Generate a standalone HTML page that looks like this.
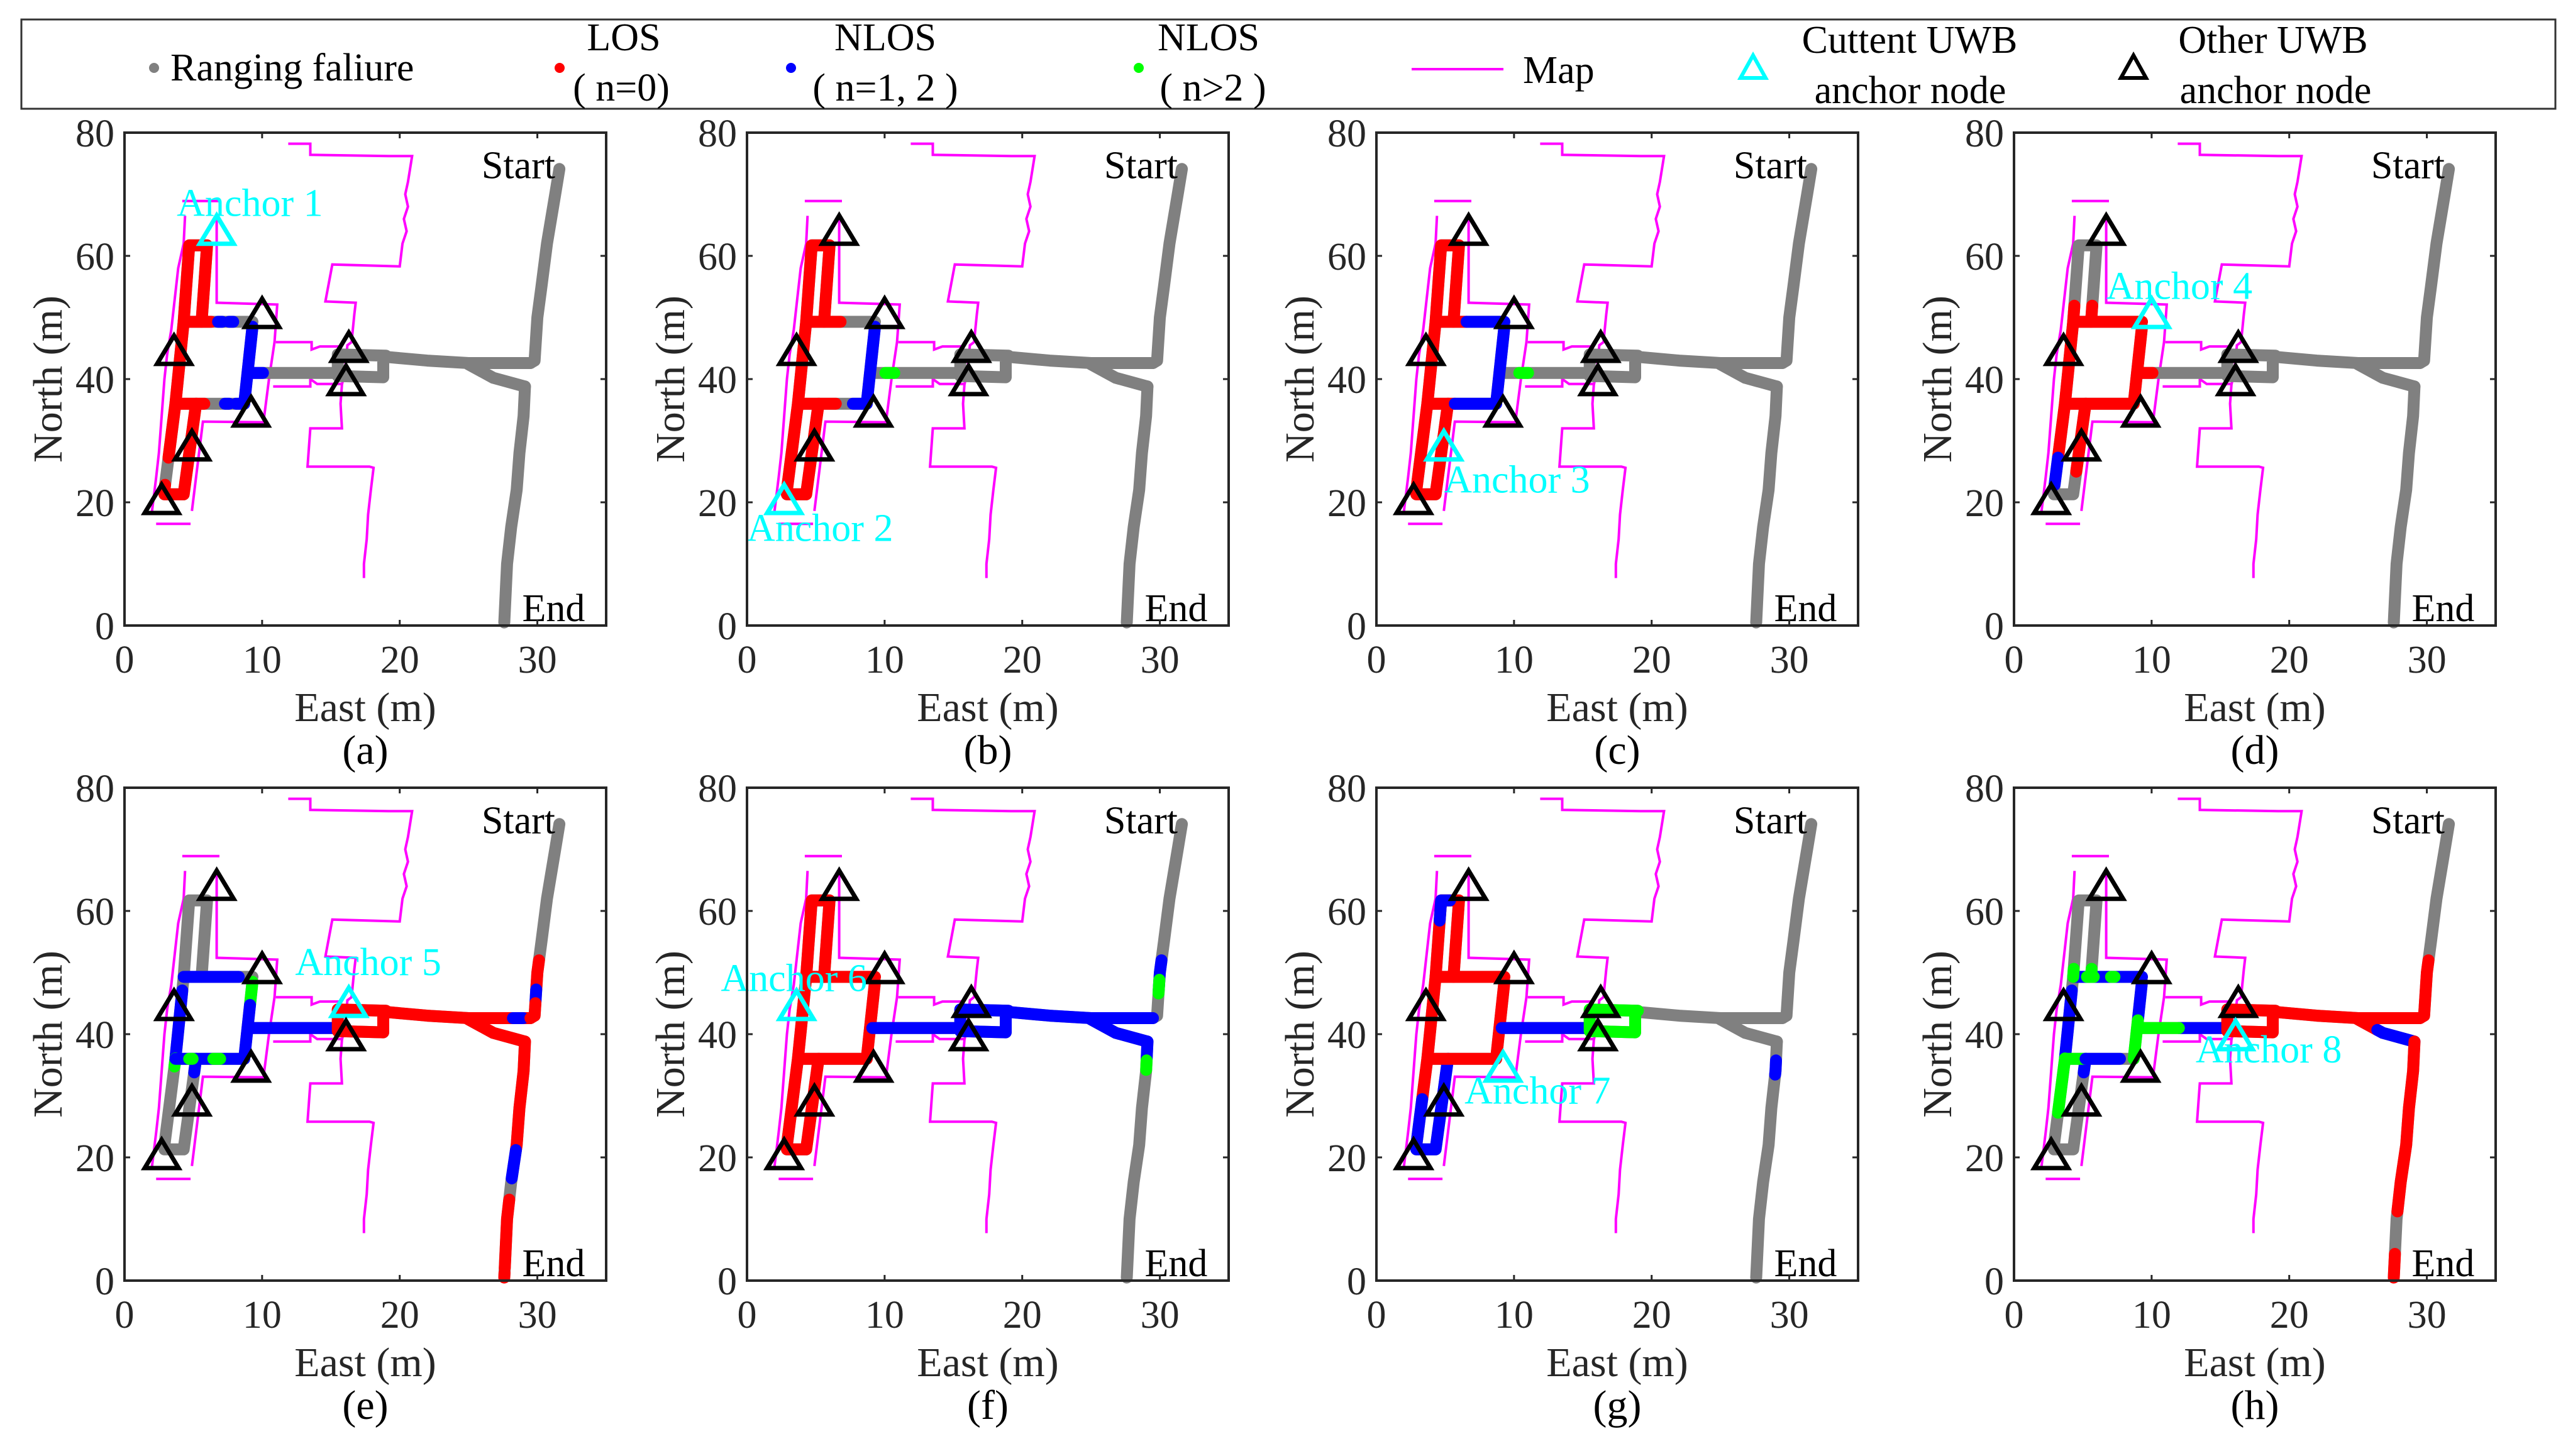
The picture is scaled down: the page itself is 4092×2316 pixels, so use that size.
<!DOCTYPE html>
<html><head><meta charset="utf-8"><style>
html,body{margin:0;padding:0;background:#fff;}
svg{display:block;font-family:"Liberation Serif",serif;}
</style></head><body>
<svg id="fig" width="4092" height="2316" viewBox="0 0 4092 2316" xmlns="http://www.w3.org/2000/svg">
<rect x="0" y="0" width="4092" height="2316" fill="#fff"/>
<g id="legend">
<rect x="34" y="31" width="4030" height="142" fill="#fff" stroke="#333" stroke-width="3"/>
<circle cx="245" cy="108" r="8" fill="#808080"/>
<text x="271" y="128" font-size="62">Ranging faliure</text>
<circle cx="890" cy="108" r="8" fill="#ff0000"/>
<text x="992" y="80" font-size="62" text-anchor="middle">LOS</text>
<text x="988" y="160" font-size="62" text-anchor="middle">( n=0)</text>
<circle cx="1258" cy="108" r="8" fill="#0000ff"/>
<text x="1408" y="80" font-size="62" text-anchor="middle">NLOS</text>
<text x="1408" y="160" font-size="62" text-anchor="middle">( n=1, 2 )</text>
<circle cx="1811" cy="108" r="8" fill="#00ff00"/>
<text x="1922" y="80" font-size="62" text-anchor="middle">NLOS</text>
<text x="1929" y="160" font-size="62" text-anchor="middle">( n&gt;2 )</text>
<line x1="2245" y1="110" x2="2391" y2="110" stroke="#ff00ff" stroke-width="4"/>
<text x="2422" y="132" font-size="62">Map</text>
<polygon points="2788,88 2808,124 2768,124" fill="none" stroke="#00ffff" stroke-width="6"/>
<text x="3037" y="84" font-size="62" text-anchor="middle">Cuttent UWB</text>
<text x="3038" y="164" font-size="62" text-anchor="middle">anchor node</text>
<polygon points="3393,88 3413,124 3373,124" fill="none" stroke="#000" stroke-width="6"/>
<text x="3615" y="84" font-size="62" text-anchor="middle">Other UWB</text>
<text x="3619" y="164" font-size="62" text-anchor="middle">anchor node</text>
</g>
</svg>
<script>
// ---- data ----
const xTicks = [0, 10, 20, 30];
const yTicks = [0, 20, 40, 60, 80];
const panelLabels = ['(a)','(b)','(c)','(d)','(e)','(f)','(g)','(h)'];
// anchor positions (East, North) m
const anchorX = [6.7, 2.7, 4.9, 10.0, 16.3, 3.6, 9.2, 16.1];
const anchorY = [64.0, 20.3, 29.0, 50.5, 45.0, 44.5, 34.5, 39.6];
// anchor label text positions (East, North)
const labelX = [3.8, 0.0, 4.9, 6.7, 12.4, -1.9, 6.4, 13.2];
const labelY = [66.5, 13.7, 21.6, 53.0, 49.6, 47.0, 28.7, 35.4];
// trajectory segments (East, North)
const trajSegments = [
 [[31.6,74.1],[31.3,70],[30.7,62],[30.3,55],[30,50],[29.8,43],[29.5,42.6]],
 [[29.5,42.6],[25,42.6],[22,43],[19,43.6]],
 [[25,42.4],[26.8,40.2],[29.1,38.8]],
 [[29.1,38.8],[29,34],[28.7,28],[28.5,22],[28.1,16],[27.8,10],[27.6,0.5]],
 [[19,43.8],[15.5,44],[15.5,40.5],[18.8,40.3],[18.8,43.6]],
 [[15.5,41],[9.1,41]],
 [[9.3,48.5],[8.7,36]],
 [[4.3,49.3],[9.3,49.3]],
 [[3.7,36],[8.7,36]],
 [[4.3,49.3],[4.7,61.7],[6.0,61.7],[5.6,49.3]],
 [[4.3,49.3],[3.7,36],[2.9,22],[2.9,21.3],[4.3,21.3],[5.2,36]]
];
// map polylines
const mapLines = [
 [[11.9,78.2],[13.5,78.2],[13.5,76.4],[19.2,76.2],[20.9,76.2],[20.6,72],[20.4,70],[20.6,68],[20.3,66],[20.5,64],[20.2,62],[20.0,58.3],[18.4,58.4],[15.1,58.6],[14.6,52.6],[16.8,52.4],[16.7,50.5],[16.5,46],[16.2,45.5],[16.0,41],[15.8,39.1],[15.7,36],[15.8,32],[13.5,32],[13.3,25.8],[17.8,25.8],[18.1,25.6],[17.9,22],[17.7,18],[17.6,14],[17.4,10],[17.4,7.7]],
 [[11.0,46],[13.6,46],[13.6,44.8],[14.2,45.3],[15.7,45.3]],
 [[10.8,38.8],[13.5,38.8],[13.5,40],[14.0,39.2],[15.8,39.2]],
 [[4.2,68.9],[6.9,68.9]],
 [[6.7,66.5],[6.7,52.4],[11.1,52.1],[10.9,46],[10.5,40],[10.1,33],[5.7,33.1],[4.9,18.6]],
 [[4.4,66.5],[4.3,62],[3.9,58],[3.6,52],[3.4,48],[3.1,44],[2.9,40],[2.7,34],[2.5,28],[2.3,24],[2.0,18.6]],
 [[2.3,16.5],[4.8,16.5]]
];
// colored overlays per panel: [segment, t0, t1, class]  R=LOS B=NLOS(1,2) G=NLOS(>2)
const overlaysA = [[9,0,1,'R'],[10,0,0.5,'R'],[10,0.6,1,'R'],[7,0,0.4,'R'],[7,0.5,0.56,'B'],[7,0.66,0.72,'B'],[8,0,0.42,'R'],[8,0.72,0.78,'B'],[8,0.88,1,'B'],[6,0,1,'B'],[5,0.85,1,'B']];
const overlaysB = [[9,0,1,'R'],[10,0,1,'R'],[7,0,0.5,'R'],[6,0,1,'B'],[8,0,0.55,'R'],[8,0.8,1,'B'],[5,0.75,0.85,'G']];
const overlaysC = [[9,0,1,'R'],[10,0,1,'R'],[7,0,0.45,'R'],[7,0.45,1,'B'],[6,0,1,'B'],[8,0,0.4,'R'],[8,0.4,1,'B'],[5,0.7,0.8,'G']];
const overlaysD = [[9,0,0.1,'R'],[9,0.9,1,'R'],[10,0,0.5,'R'],[10,0.5,0.6,'B'],[10,0.75,1,'R'],[7,0,1,'R'],[6,0,1,'R'],[8,0,1,'R'],[5,0.85,1,'R']];
const overlaysE = [[10,0.05,0.3,'B'],[10,0.3,0.33,'G'],[10,0.95,1,'B'],[7,0,0.8,'B'],[6,0,0.3,'G'],[6,0.3,1,'B'],[5,0,1,'B'],[8,0,1,'B'],[8,0.2,0.25,'G'],[8,0.55,0.65,'G'],[4,0,1,'R'],[1,0,1,'R'],[1,0.05,0.12,'B'],[2,0,1,'R'],[3,0,0.46,'R'],[3,0.46,0.58,'B'],[3,0.67,0.96,'R'],[3,0.98,1,'R'],[0,0.7,0.85,'R'],[0,0.85,0.92,'B'],[0,0.92,1,'R']];
const overlaysF = [[9,0,1,'R'],[10,0,1,'R'],[7,0,1,'R'],[6,0,1,'R'],[8,0,1,'R'],[5,0,1,'B'],[4,0,1,'B'],[1,0,1,'B'],[2,0,1,'B'],[0,0.7,0.85,'B'],[0,0.8,0.87,'G'],[3,0,0.08,'B'],[3,0.08,0.12,'G']];
const overlaysG = [[9,0,1,'R'],[9,0.35,0.5,'B'],[10,0,0.45,'R'],[10,0.45,1,'B'],[7,0,1,'R'],[6,0,1,'R'],[8,0,1,'R'],[5,0,1,'B'],[4,0,1,'G'],[3,0.08,0.14,'B']];
const overlaysH = [[10,0.05,0.3,'B'],[10,0.3,0.5,'G'],[10,0.95,1,'B'],[7,0,1,'B'],[7,0.2,0.3,'G'],[7,0.55,0.6,'G'],[6,0,0.5,'B'],[6,0.5,1,'G'],[5,0,0.55,'B'],[5,0.55,1,'G'],[8,0,0.3,'G'],[8,0.3,0.8,'B'],[4,0,1,'R'],[1,0,1,'R'],[2,0,0.4,'R'],[2,0.4,1,'B'],[3,0,0.72,'R'],[3,0.9,1,'R'],[0,0.7,1,'R'],[9,0,0.05,'G'],[9,0.95,1,'G']];
const panelOverlays = [overlaysA,overlaysB,overlaysC,overlaysD,overlaysE,overlaysF,overlaysG,overlaysH];

// ---- layout ----
const NS='http://www.w3.org/2000/svg';
const svg=document.getElementById('fig');
const lefts=[198,1188,2189,3203], tops=[211,1253], W=766, H=784, XMAX=35, YMAX=80;
const colors={R:'#ff0000',B:'#0000ff',G:'#00ff00'};
const LW=19;
function mk(tag,attrs,parent){const e=document.createElementNS(NS,tag);for(const k in attrs)e.setAttribute(k,attrs[k]);parent.appendChild(e);return e;}
function subPath(pts,t0,t1){
  const L=[0];for(let i=1;i<pts.length;i++){L.push(L[i-1]+Math.hypot(pts[i][0]-pts[i-1][0],pts[i][1]-pts[i-1][1]));}
  const tot=L[L.length-1],a=t0*tot,b=t1*tot,out=[];
  const at=d=>{for(let i=1;i<pts.length;i++){if(d<=L[i]+1e-9){const f=(d-L[i-1])/((L[i]-L[i-1])||1);return [pts[i-1][0]+f*(pts[i][0]-pts[i-1][0]),pts[i-1][1]+f*(pts[i][1]-pts[i-1][1])];}}return pts[pts.length-1];};
  out.push(at(a));for(let i=1;i<pts.length-1;i++){if(L[i]>a&&L[i]<b)out.push(pts[i]);}out.push(at(b));return out;
}
for(let p=0;p<8;p++){
  const ox=lefts[p%4], oy=tops[Math.floor(p/4)];
  const sx=v=>ox+v/XMAX*W, sy=v=>oy+H-v/YMAX*H;
  const pts2=pts=>pts.map(q=>sx(q[0]).toFixed(1)+','+sy(q[1]).toFixed(1)).join(' ');
  const g=mk('g',{},svg);
  
  
  mapLines.forEach((m,i)=>{const e=mk('polyline',{points:pts2(m),fill:'none',stroke:'#ff00ff','stroke-width':4,'stroke-linejoin':'miter'},g);
    
    });
  trajSegments.forEach(s=>{const e=mk('polyline',{points:pts2(s),fill:'none',stroke:'#808080','stroke-width':LW,'stroke-linecap':'round','stroke-linejoin':'round'},g);
    
    });
  panelOverlays[p].forEach(o=>{const e=mk('polyline',{points:pts2(subPath(trajSegments[o[0]],o[1],o[2])),fill:'none',stroke:colors[o[3]],'stroke-width':LW,'stroke-linecap':'round','stroke-linejoin':'round'},g);
    
    });
  for(let a=0;a<8;a++){const cx=sx(anchorX[a]),cy=sy(anchorY[a]);
    const e=mk('polygon',{points:`${cx},${cy-25} ${cx+27},${cy+20} ${cx-27},${cy+20}`,fill:'none',stroke:a===p?'#00ffff':'#000','stroke-width':7,'stroke-linejoin':'miter'},g);
    
    }
  const al=mk('text',{x:sx(labelX[p]),y:sy(labelY[p]),'font-size':62,fill:'#00ffff'},g);al.textContent='Anchor '+(p+1);
  
  
  const st=mk('text',{x:sx(31.3),y:sy(72.6),'font-size':62,'text-anchor':'end'},g);st.textContent='Start';
  
  
  const en=mk('text',{x:sx(28.9),y:sy(0.7),'font-size':62},g);en.textContent='End';
  
  
  const bx=mk('rect',{x:ox,y:oy,width:W,height:H,fill:'none',stroke:'#262626','stroke-width':4},g);
  
  
  xTicks.forEach(t=>{const x=sx(t);
    mk('line',{x1:x,y1:oy+H,x2:x,y2:oy+H-9,stroke:'#262626','stroke-width':3},g);
    mk('line',{x1:x,y1:oy,x2:x,y2:oy+9,stroke:'#262626','stroke-width':3},g);
    const tx=mk('text',{x:x,y:oy+H+75,'font-size':62,'text-anchor':'middle',fill:'#262626'},g);tx.textContent=t;
    
    });
  yTicks.forEach(t=>{const y=sy(t);
    mk('line',{x1:ox,y1:y,x2:ox+9,y2:y,stroke:'#262626','stroke-width':3},g);
    mk('line',{x1:ox+W,y1:y,x2:ox+W-9,y2:y,stroke:'#262626','stroke-width':3},g);
    const ty=mk('text',{x:ox-16,y:y+22,'font-size':62,'text-anchor':'end',fill:'#262626'},g);ty.textContent=t;
    
    });
  const xl=mk('text',{x:ox+W/2,y:oy+H+152,'font-size':66,'text-anchor':'middle',fill:'#262626'},g);xl.textContent='East (m)';
  
  
  const yl=mk('text',{x:0,y:0,'font-size':66,'text-anchor':'middle',fill:'#262626',transform:`translate(${ox-100},${oy+H/2}) rotate(-90)`},g);yl.textContent='North (m)';
  
  
  const pl=mk('text',{x:ox+W/2,y:oy+H+220,'font-size':66,'text-anchor':'middle'},g);pl.textContent=panelLabels[p];
  
  
}
</script>
</body></html>
